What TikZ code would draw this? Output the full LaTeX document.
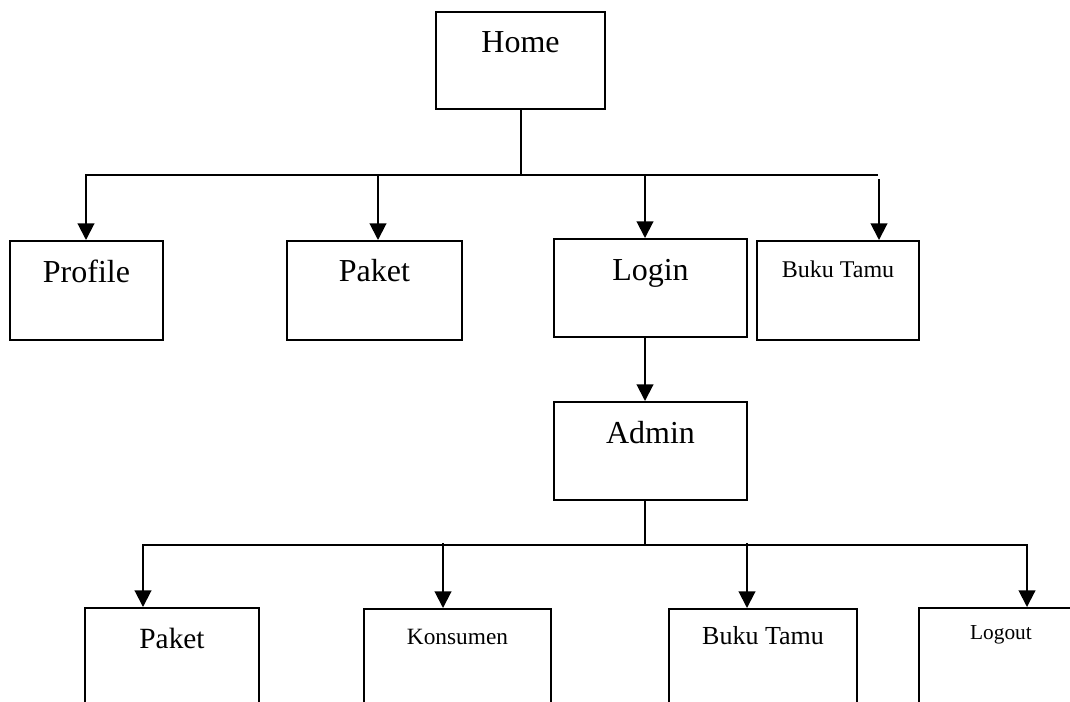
\documentclass[tikz,border=0pt]{standalone}
\usepackage{fontspec}
\setmainfont{Liberation Serif}
\usetikzlibrary{arrows.meta}

\begin{document}
\begin{tikzpicture}[
        x=0.75pt, y=-0.75pt,
        box/.style={draw, rectangle, line width=1.5pt, inner sep=0pt, anchor=base},
        big/.style={font=\fontsize{24}{28}\selectfont},
        line/.style={line width=1.5pt, line cap=rect},
        arrow/.style={-{Triangle[length=12.5pt, width=12.5pt]}, line width=1.5pt}
    ]
        \clip (0,0) rectangle (1070,701);
        % menu utama
        \node[box, big, minimum width=126.75pt, text height=30pt, text depth=42.75pt] (home) at (520.5,52) {Home};
        \node[box, big, minimum width=114.75pt, text height=30.75pt, text depth=43.5pt] (profile) at (86.5,282) {Profile};
        \node[box, big, minimum width=131.25pt, text height=30pt, text depth=44.25pt] (paket) at (374.5,281) {Paket};
        \node[box, big, minimum width=144.75pt, text height=30.75pt, text depth=42.75pt] (login) at (650.5,280) {Login};
        \node[box, font=\fontsize{18}{22}\selectfont, minimum width=121.5pt, text height=27pt, text depth=47.25pt] (bukutamu) at (838,277) {Buku Tamu};
        \node[box, big, minimum width=144.75pt, text height=30.75pt, text depth=42.75pt] (admin) at (650.5,443) {Admin};
        % menu admin
        \node[box, font=\fontsize{22}{26}\selectfont, minimum width=130.5pt, text height=30pt, text depth=90pt] (apaket) at (172,648) {Paket};
        \node[box, font=\fontsize{17.5}{21}\selectfont, minimum width=140.25pt, text height=26.25pt, text depth=90pt] (akonsumen) at (457.5,644) {Konsumen};
        \node[box, font=\fontsize{19.5}{23}\selectfont, minimum width=141pt, text height=26.25pt, text depth=90pt] (abukutamu) at (763,644) {Buku Tamu};
        \node[box, font=\fontsize{16}{20}\selectfont, minimum width=123pt, text height=23.25pt, text depth=90pt] (alogout) at (1001,639) {Logout};

        % garis dari Home
        \coordinate (busL) at (86,175);
        \coordinate (busR) at (877,175);
        \coordinate (j2) at (378,175);
        \coordinate (j3) at (645,175);
        \coordinate (j4) at (879,179);
        \draw[line] (home.south) -- (home.south |- busL);
        \draw[line] (busL) -- (busR);
        \draw[arrow] (busL) -- (busL |- profile.north);
        \draw[arrow] (j2) -- (j2 |- paket.north);
        \draw[arrow] (j3) -- (j3 |- login.north);
        \draw[arrow] (j4) -- (j4 |- bukutamu.north);
        \draw[arrow] (j3 |- login.south) -- (j3 |- admin.north);

        % garis dari Admin
        \coordinate (kL) at (143,545);
        \coordinate (kR) at (1027,545);
        \coordinate (k2) at (443,543);
        \coordinate (k3) at (747,543);
        \draw[line] (j3 |- admin.south) -- (j3 |- kL);
        \draw[line] (kL) -- (kR);
        \draw[arrow] (kL) -- (kL |- apaket.north);
        \draw[arrow] (k2) -- (k2 |- akonsumen.north);
        \draw[arrow] (k3) -- (k3 |- abukutamu.north);
        \draw[arrow] (kR) -- (kR |- alogout.north);
    \end{tikzpicture}
\end{document}
